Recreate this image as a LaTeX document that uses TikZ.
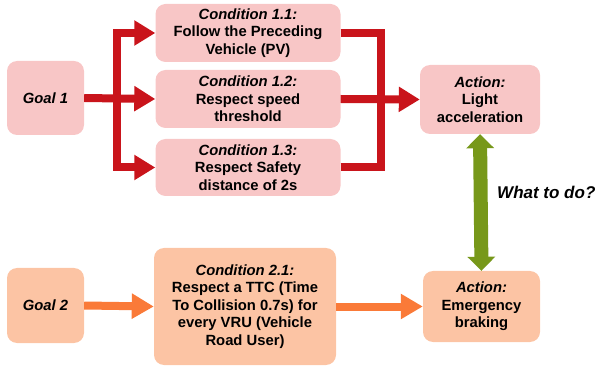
\documentclass[tikz,border=0pt]{standalone}
\usepackage{fontspec}
\setmainfont{Liberation Sans}
\usetikzlibrary{arrows.meta}
\definecolor{pinkfill}{HTML}{F8C6C6}
\definecolor{orangefill}{HTML}{FCC4A4}
\definecolor{redarr}{HTML}{C9141B}
\definecolor{orangearr}{HTML}{FA7A38}
\definecolor{greenarr}{HTML}{77981A}
\begin{document}
\begin{tikzpicture}[x=1pt,y=-1pt,
  box/.style={rounded corners=10pt, draw=none, align=center, inner sep=1pt,
    font=\fontsize{14.8}{17.5}\selectfont\bfseries},
  pinkbox/.style={box, fill=pinkfill},
  orangebox/.style={box, fill=orangefill},
  redarrow/.style={draw=redarr, line width=8pt, -{Triangle[length=21pt,width=24pt]}},
  redline/.style={draw=redarr, line width=8pt},
  orangearrow/.style={draw=orangearr, line width=8pt, -{Triangle[length=22pt,width=24pt]}},
  greenarrow/.style={draw=greenarr, line width=14pt, {Triangle[length=14pt,width=27pt]}-{Triangle[length=14pt,width=27pt]}},
]
\useasboundingbox (0,0) rectangle (600,366);
\node[pinkbox, minimum width=77pt, minimum height=74pt] (g1) at (45.5,98) {\textit{Goal 1}};
\node[pinkbox, minimum width=185pt, minimum height=58pt] (c11) at (248,33) {\textit{Condition 1.1:}\\Follow the Preceding\\Vehicle (PV)};
\node[pinkbox, minimum width=185pt, minimum height=58pt] (c12) at (248,99) {\textit{Condition 1.2:}\\Respect speed\\threshold};
\node[pinkbox, minimum width=185pt, minimum height=57pt] (c13) at (248,167.5) {\textit{Condition 1.3:}\\Respect Safety\\distance of 2s};
\node[pinkbox, minimum width=120pt, minimum height=69pt] (a1) at (480,99.5) {\textit{Action:}\\Light\\acceleration};
\node[orangebox, minimum width=77pt, minimum height=75pt] (g2) at (45.5,305.5) {\textit{Goal 2}};
\node[orangebox, minimum width=182pt, minimum height=117pt] (c21) at (245,306.5) {\textit{Condition 2.1:}\\Respect a TTC (Time\\To Collision 0.7s) for\\every VRU (Vehicle\\Road User)};
\node[orangebox, minimum width=117pt, minimum height=71pt] (a2) at (481.5,306.5) {\textit{Action:}\\Emergency\\braking};
\node[font=\fontsize{17}{19}\selectfont\bfseries\itshape, anchor=west, inner sep=0pt] (q) at (497,192) {What to do?};
\coordinate (j1) at (117,98);
\coordinate (j2) at (381,99);
\draw[redarrow] (g1.east) -- (c12.west);
\draw[redarrow] (j1) |- (c11.west);
\draw[redarrow] (j1) |- (c13.west);
\draw[redline] (c11.east) -| (j2);
\draw[redline] (c13.east) -| (j2);
\draw[redarrow] (c12.east) -- (a1.west);
\draw[greenarrow] (a1.south) -- (a2.north);
\draw[orangearrow] (g2.east) -- (c21.west);
\draw[orangearrow] (c21.east) -- (a2.west);
\end{tikzpicture}
\end{document}
